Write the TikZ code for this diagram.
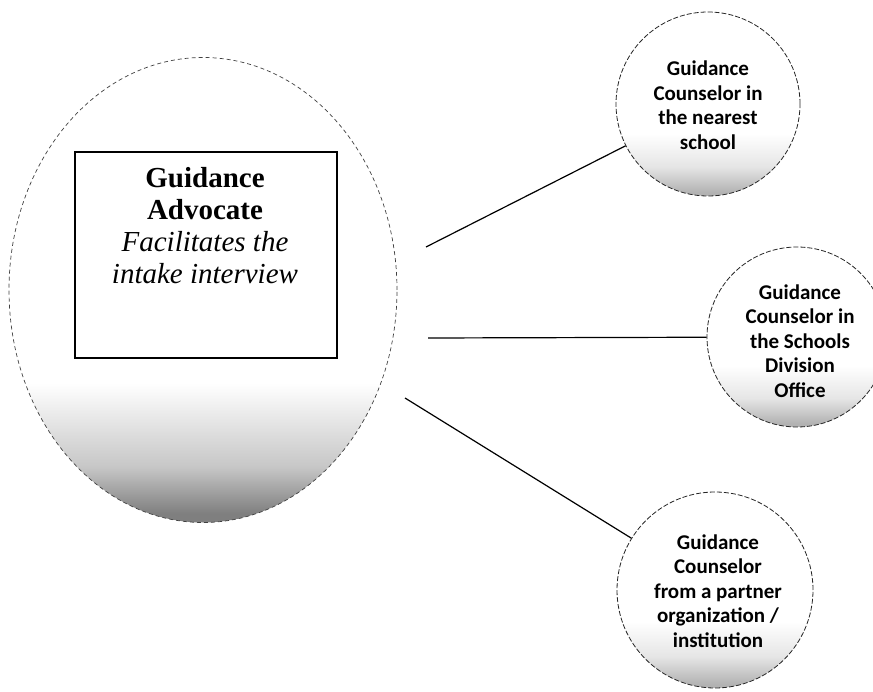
\documentclass[tikz,border=0pt]{standalone}
\usepackage{fontspec}
\setmainfont{Liberation Serif}
\newfontfamily\calib{Carlito}
\usetikzlibrary{shapes.geometric}
\pgfdeclareverticalshading{ellfade}{100bp}{color(0bp)=(black!55); color(26bp)=(black!50); color(31bp)=(black!22); color(40bp)=(white); color(100bp)=(white)}
\pgfdeclareverticalshading{circfade}{100bp}{color(0bp)=(black!35); color(26bp)=(black!30); color(33bp)=(black!10); color(42bp)=(white); color(100bp)=(white)}
\begin{document}
\begin{tikzpicture}[x=1pt,y=-1pt,
  bigell/.style={ellipse, minimum width=388pt, minimum height=465pt, inner sep=0pt,
    draw=black!75, line width=0.7pt, dash pattern=on 4pt off 3pt, shade, shading=ellfade},
  roundbox/.style={circle, minimum size=#1, inner sep=0pt, draw=black!85, line width=0.8pt,
    dash pattern=on 5pt off 2pt, shade, shading=circfade},
  mainbox/.style={rectangle, draw, line width=1.8pt, fill=white, minimum width=262pt,
    minimum height=206pt, inner sep=0pt},
  maintext/.style={align=center, inner sep=0pt, font=\fontsize{29}{32}\selectfont},
  circtext/.style={align=center, inner sep=0pt, font=\calib\bfseries\fontsize{21}{24.5}\selectfont},
  link/.style={line width=1.2pt, draw=black}]
\clip (0,0) rectangle (873,692);
\fill[white] (0,0) rectangle (873,692);

\node[bigell] (adv) at (203,290) {};
\node[mainbox] (box) at (206,255) {};
\node[maintext] (boxtext) at (205,226)
  {\textbf{Guidance}\\\textbf{Advocate}\\\textit{Facilitates the}\\\textit{intake interview}};

\node[roundbox=184pt] (c1) at (708,104) {};
\node[roundbox=180pt] (c2) at (797,337) {};
\node[roundbox=196pt] (c3) at (715,590) {};

\node[circtext] (t1) at (708,105) {Guidance\\Counselor in\\the nearest\\school};
\node[circtext] (t2) at (800,341) {Guidance\\Counselor in\\the Schools\\Division\\Office};
\node[circtext] (t3) at (718,591) {Guidance\\Counselor\\from a partner\\organization /\\institution};

\coordinate (s1) at (426,247);
\coordinate (s2) at (428,338);
\coordinate (s3) at (405,398);

\draw[link] (s1) -- (c1);
\draw[link] (s2) -- (c2);
\draw[link] (s3) -- (c3);
\end{tikzpicture}
\end{document}
